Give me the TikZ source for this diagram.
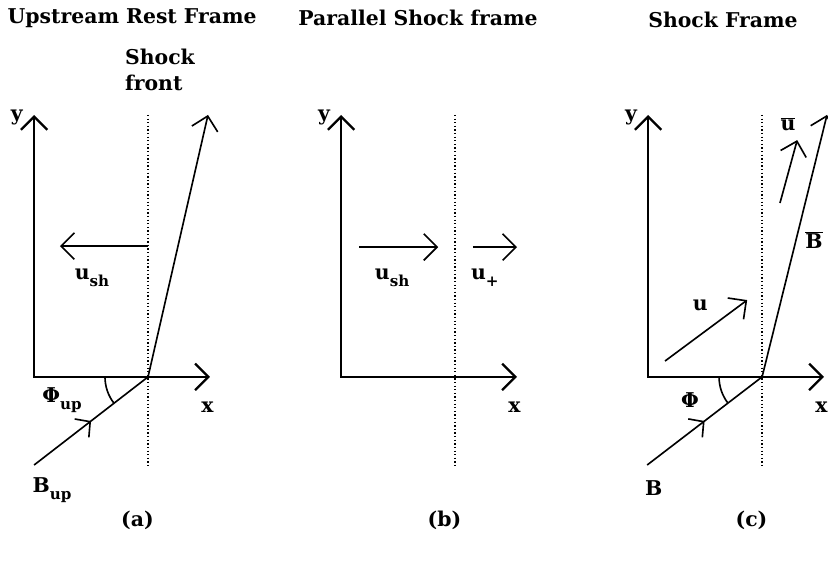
\documentclass[tikz,border=0pt]{standalone}
\usepackage{fontspec}
\setmainfont{DejaVu Serif}
\usetikzlibrary{arrows.meta,decorations.markings}

\newcommand{\lowsub}[1]{\raisebox{-0.6ex}{\fontsize{13}{15}\selectfont #1}}

\begin{document}
\begin{tikzpicture}[
        font=\fontsize{17.5}{22}\selectfont\bfseries,
        axes/.style={line width=2pt, {Straight Barb[length=0.4cm,width=0.8cm]}-{Straight Barb[length=0.4cm,width=0.8cm]}},
        vec/.style={line width=1.4pt, -{Straight Barb[length=0.4cm,width=0.8cm]}},
        field/.style={line width=1.4pt},
        front/.style={line width=1.1pt, dotted},
        midarrow/.style={postaction={decorate}, decoration={markings,
            mark=at position 0.5 with {\arrow{Straight Barb[length=0.32cm,width=0.7cm]}}}}
    ]
        \useasboundingbox (0,0) rectangle (25,17.06);

        % titles
        \node (ttla) at (3.99,16.52) {Upstream Rest Frame};
        \node (ttlb) at (12.62,16.52) {Parallel Shock frame};
        \node (ttlc) at (21.83,16.46) {Shock Frame};

        % axes, shock front and caption of each frame
        \foreach \p/\dx in {a/0, b/9.27, c/18.54} {
            \begin{scope}[xshift=\dx cm]
                \coordinate (O\p) at (1.03,5.68);
                \coordinate (Y\p) at (1.03,13.59);
                \coordinate (X\p) at (6.34,5.68);
                \coordinate (S\p) at (4.47,5.68);
                \coordinate (Ft\p) at (4.47,13.59);
                \coordinate (Fb\p) at (4.47,2.96);
                \draw[axes] (Y\p) -- (O\p) -- (X\p);
                \draw[front] (Ft\p) -- (Fb\p);
                \node (ylab\p) at (0.51,13.5) {y};
                \node[inner sep=0pt] (xlab\p) at (6.26,4.77) {x};
                \node (cap\p) at (4.15,1.36) {(\p)};
            \end{scope}
        }

        % (a) upstream rest frame
        \coordinate (Ba) at (1.03,3.02);
        \coordinate (Bta) at (6.28,13.59);
        \coordinate (usha1) at (4.47,9.63);
        \coordinate (usha2) at (1.81,9.63);
        \draw[field, midarrow] (Ba) -- (Sa);
        \draw[vec] (Sa) -- (Bta);
        \draw[field] (Sa) ++(180:1.3) arc[start angle=180, end angle=217.7, radius=1.3];
        \draw[vec] (usha1) -- (usha2);
        \node (ushlaba) at (2.78,8.67) {u\lowsub{sh}};
        \node (phia) at (1.87,4.98) {Φ\lowsub{up}};
        \node (Blaba) at (1.57,2.26) {B\lowsub{up}};
        \node[align=left] (fronta) at (4.83,14.95) {Shock\\front};

        % (b) parallel shock frame
        \begin{scope}[xshift=9.27cm]
            \coordinate (ushb1) at (1.57,9.6);
            \coordinate (ushb2) at (3.96,9.6);
            \coordinate (upb1) at (5.01,9.6);
            \coordinate (upb2) at (6.34,9.6);
            \draw[vec] (ushb1) -- (ushb2);
            \draw[vec] (upb1) -- (upb2);
            \node (ushlabb) at (2.57,8.67) {u\lowsub{sh}};
            \node (uplabb) at (5.37,8.67) {u\lowsub{+}};
        \end{scope}

        % (c) shock frame
        \begin{scope}[xshift=18.54cm]
            \coordinate (Bc) at (1.0,3.02);
            \coordinate (Btc) at (6.43,13.59);
            \coordinate (uc1) at (1.54,6.16);
            \coordinate (uc2) at (4.02,8.0);
            \coordinate (ubc1) at (5.01,10.93);
            \coordinate (ubc2) at (5.53,12.83);
            \draw[field, midarrow] (Bc) -- (Sc);
            \draw[vec] (Sc) -- (Btc);
            \draw[field] (Sc) ++(180:1.3) arc[start angle=180, end angle=217.7, radius=1.3];
            \draw[vec] (uc1) -- (uc2);
            \draw[vec] (ubc1) -- (ubc2);
            \node (ulabc) at (2.6,7.85) {u};
            \node (ublabc) at (5.25,13.3) {$\overline{\mbox{u}}$};
            \node (Bblabc) at (6.04,9.81) {$\overline{\mbox{B}}$};
            \node (phic) at (2.29,4.98) {Φ};
            \node (Blabc) at (1.2,2.32) {B};
        \end{scope}
\end{tikzpicture}
\end{document}
